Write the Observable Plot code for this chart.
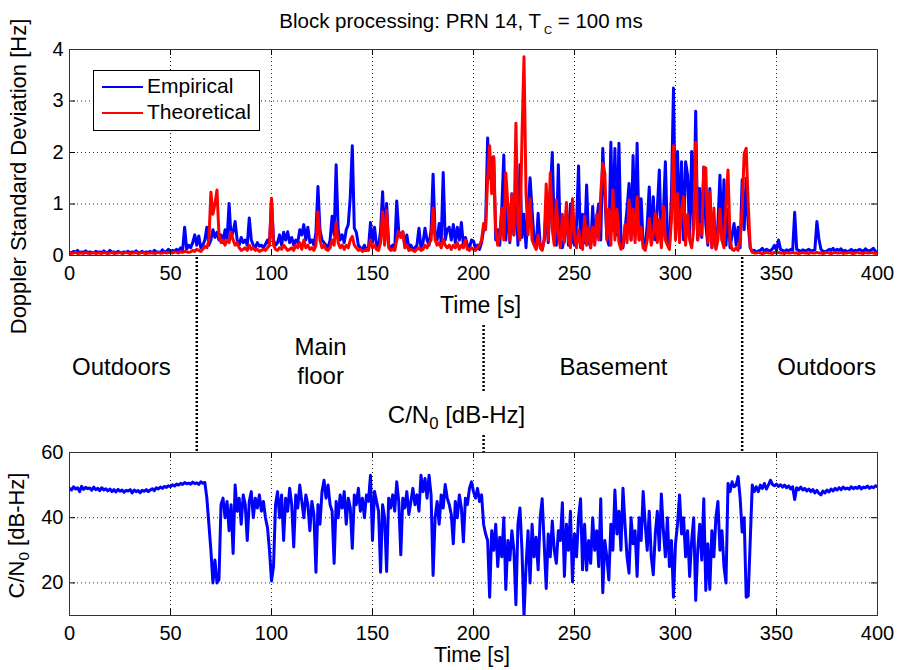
<!DOCTYPE html>
<html><head><meta charset="utf-8">
<script src="https://cdn.jsdelivr.net/npm/d3@7"></script>
<script src="https://cdn.jsdelivr.net/npm/@observablehq/plot@0.6"></script>
<style>
body{margin:0;background:#fff;}
#fig{position:relative;width:899px;height:670px;font-family:"Liberation Sans",Arial,sans-serif;overflow:hidden;background:#fff;color:#000;}
#fig svg{position:absolute;left:0;}
#title{position:absolute;left:0;width:922px;top:11px;text-align:center;font-size:20.5px;line-height:20px;white-space:nowrap;}
#title sub{font-size:55%;vertical-align:-0.5em;margin-left:3px;}
#legend{position:absolute;left:93px;top:70px;width:167px;height:61px;box-sizing:border-box;border:1px solid #000;background:#fff;}
#legend .sw{position:absolute;left:8px;width:41px;height:2.5px;}
#legend .lb{position:absolute;left:53px;font-size:21px;line-height:21px;}
</style></head><body>
<div id="fig">
  <div id="title">Block processing: PRN 14, T<sub>C</sub> = 100 ms</div>
</div>
<script>
// ---------------- data ----------------
const seconds = d3.range(0, 401); // one sample per second, 0..400 s

const empirical = [
0.06,0.05,0.08,0.06,0.1,0.05,0.07,0.06,0.09,0.05,
0.07,0.06,0.05,0.08,0.06,0.07,0.05,0.09,0.06,0.05,
0.1,0.06,0.07,0.05,0.08,0.06,0.05,0.07,0.06,0.08,
0.05,0.07,0.06,0.09,0.05,0.06,0.08,0.05,0.07,0.06,
0.08,0.05,0.1,0.06,0.07,0.05,0.11,0.06,0.08,0.12,
0.07,0.1,0.08,0.12,0.09,0.15,0.1,0.55,0.12,0.2,
0.15,0.25,0.4,0.2,0.38,0.15,0.2,0.3,0.55,0.2,
0.3,0.5,0.35,0.45,0.3,0.4,0.25,0.5,0.3,1.01,
0.35,0.46,0.66,0.3,0.2,0.35,0.25,0.3,0.2,0.73,
0.3,0.2,0.15,0.25,0.18,0.2,0.15,0.22,0.3,0.2,
1.1,0.3,0.2,0.25,0.4,0.2,0.45,0.3,0.46,0.25,
0.35,0.2,0.3,0.25,0.5,0.4,0.6,0.3,0.55,0.25,
0.3,0.2,0.45,1.34,0.5,0.3,0.25,0.2,0.15,0.3,
0.76,0.4,1.76,0.5,0.3,0.4,0.25,0.5,0.6,1.14,
2.13,0.53,0.45,0.2,0.15,0.12,0.2,0.1,0.15,0.64,
0.25,0.55,0.2,0.15,0.5,1.24,0.3,1.01,0.2,0.15,
0.2,0.12,1.06,0.46,0.4,0.46,0.2,0.4,0.15,0.2,
0.12,0.15,0.2,0.53,0.15,0.25,0.53,0.3,0.2,0.5,
1.58,0.4,0.3,0.62,0.25,1.61,0.3,0.5,0.55,0.3,
0.6,0.25,0.55,0.3,0.64,0.2,0.35,0.2,0.15,0.3,
0.28,0.15,0.2,0.12,0.25,0.5,0.6,2.28,1.5,1.9,
1.9,0.3,0.5,0.2,0.92,1.95,0.3,1.0,0.25,1.2,
0.4,1.3,0.2,1.76,0.35,0.8,0.15,0.9,1.51,0.88,
0.3,0.15,0.82,0.2,0.12,0.3,0.9,0.25,1.2,2.0,
0.5,0.2,1.76,0.3,0.15,0.35,0.9,0.2,1.0,0.3,
0.2,0.6,1.74,0.15,0.8,0.25,1.37,0.3,0.15,0.95,
0.25,0.7,1.0,0.3,2.08,1.2,0.35,0.2,2.2,0.5,
2.08,0.4,2.18,0.3,0.15,0.5,0.9,1.4,0.3,1.94,
0.4,2.18,0.3,1.1,0.2,0.15,0.6,1.33,0.25,1.14,
0.3,0.9,1.66,0.2,0.8,1.82,0.35,0.15,1.2,3.25,
0.4,2.02,0.5,1.82,0.3,1.82,1.56,0.35,2.02,0.5,
2.8,0.3,1.3,0.35,1.72,0.6,0.2,1.3,0.15,0.6,
0.15,0.6,1.56,0.3,1.47,0.2,0.9,0.15,0.4,0.62,
0.2,0.55,0.15,1.47,0.5,1.5,0.6,0.15,0.08,0.1,
0.06,0.09,0.1,0.14,0.08,0.12,0.1,0.09,0.13,0.2,
0.1,0.3,0.12,0.1,0.08,0.11,0.09,0.12,0.1,0.84,
0.12,0.1,0.08,0.11,0.09,0.1,0.12,0.08,0.1,0.11,
0.66,0.32,0.12,0.08,0.07,0.09,0.12,0.1,0.14,0.08,
0.12,0.1,0.13,0.08,0.1,0.07,0.09,0.12,0.08,0.1,
0.09,0.12,0.1,0.08,0.13,0.1,0.09,0.11,0.14,0.08,
0.06];

const theoretical = [
0.05,0.04,0.05,0.06,0.04,0.05,0.05,0.04,0.06,0.05,
0.04,0.05,0.06,0.04,0.05,0.05,0.04,0.06,0.05,0.04,
0.05,0.06,0.04,0.05,0.05,0.06,0.04,0.05,0.06,0.05,
0.04,0.05,0.05,0.06,0.04,0.05,0.06,0.05,0.04,0.05,
0.05,0.06,0.04,0.05,0.06,0.05,0.05,0.06,0.05,0.06,
0.06,0.05,0.07,0.06,0.05,0.07,0.06,0.08,0.07,0.06,
0.07,0.1,0.08,0.12,0.1,0.08,0.12,0.18,0.15,0.3,
1.23,0.8,1.0,1.27,0.4,0.25,0.3,0.2,0.3,0.25,
0.45,0.3,0.2,0.25,0.15,0.1,0.12,0.15,0.1,0.2,
0.12,0.15,0.1,0.12,0.08,0.1,0.12,0.1,0.15,0.2,
1.11,0.2,0.12,0.1,0.15,0.12,0.2,0.15,0.1,0.12,
0.15,0.1,0.2,0.15,0.25,0.12,0.3,0.15,0.2,0.12,
0.15,0.1,0.2,0.85,0.3,0.15,0.2,0.12,0.1,0.15,
0.3,0.2,0.64,0.25,0.15,0.2,0.12,0.2,0.15,0.3,
0.37,0.2,0.15,0.1,0.12,0.08,0.1,0.12,0.1,0.3,
0.15,0.2,0.12,0.1,0.25,0.85,0.2,0.88,0.15,0.1,
0.12,0.1,0.3,0.46,0.35,0.46,0.15,0.2,0.1,0.12,
0.1,0.08,0.12,0.15,0.1,0.12,0.2,0.15,0.23,0.3,
0.92,0.3,0.2,0.25,0.15,0.31,0.2,0.15,0.2,0.12,
0.2,0.15,0.25,0.12,0.2,0.15,0.3,0.12,0.1,0.15,
0.12,0.1,0.15,0.2,0.3,0.62,0.5,1.5,2.13,1.2,
1.92,0.5,0.2,0.4,0.92,0.3,1.6,1.0,0.3,1.19,
0.4,2.57,0.6,0.3,2.3,3.86,1.2,0.4,1.1,0.3,
0.2,0.12,0.4,0.15,0.1,0.3,1.39,0.3,1.6,0.5,
0.2,1.08,0.4,0.15,0.8,0.25,1.03,0.3,0.15,1.1,
0.4,0.15,0.5,0.2,0.12,0.76,0.2,0.55,0.15,0.55,
0.2,0.8,0.3,1.2,1.79,1.6,0.3,0.9,0.2,1.27,
0.3,0.9,0.25,0.12,0.2,0.6,0.25,1.08,0.3,0.9,
0.25,1.14,0.3,0.55,0.15,0.1,0.3,0.72,0.2,0.4,
0.82,0.25,0.7,0.15,0.95,0.3,0.2,0.12,0.7,2.13,
0.3,1.2,0.25,0.9,1.14,0.2,0.8,0.3,0.15,0.5,
2.2,0.3,0.6,0.4,1.71,1.7,0.25,1.24,0.15,0.92,
0.12,0.3,0.9,0.3,0.15,1.0,1.66,0.3,0.12,0.1,
0.15,0.1,0.3,0.9,1.98,2.08,1.0,0.15,0.06,0.05,
0.05,0.06,0.05,0.04,0.05,0.06,0.05,0.05,0.04,0.06,
0.05,0.06,0.05,0.05,0.04,0.06,0.05,0.05,0.06,0.05,
0.05,0.04,0.05,0.06,0.05,0.05,0.04,0.06,0.05,0.05,
0.06,0.05,0.05,0.04,0.05,0.06,0.05,0.04,0.05,0.06,
0.05,0.05,0.06,0.04,0.05,0.05,0.06,0.05,0.04,0.05,
0.06,0.05,0.05,0.04,0.06,0.05,0.05,0.06,0.05,0.04,
0.05];

const cn0 = [
49,48.5,49.5,48.8,49.2,48,49.6,48.7,49.3,48.9,
49.1,48.4,49.4,48.6,49,48.3,49.2,48.5,48.9,48.2,
48.8,48,48.6,47.9,48.7,48.1,48.5,47.8,48.4,48.2,
48.6,47.6,48.5,48,48.3,47.7,48.4,48.1,48.6,48,
48.5,48.9,48.3,49.2,48.8,49.4,49,49.6,49.3,49.8,
49.5,50.1,49.7,50.3,50,50.5,50.2,50.8,50.4,50.6,
50.3,50.9,50.5,50.7,50.2,51,50.6,50.8,46,38,
30,20,27,20,21,44,46,40,45,36,
44,29,50,42,46,38,47,44,33,45,
48,40,46,43,47,42,45,40,37,30,
20.6,25,44,48,40,47,33,46,42,49,
44,31,47,43,50,45,40,47,44,36,
45,41,23.3,44,38,48,51.5,46,50,44,
42,26,45,40,47,43,48,38,46,43,
30.6,47,44,49,42,46,40,47,45,53,
33,48,45,42,23.3,44,40,23.5,46,43,
47,42,51,45,28.6,46,43,48,41,45,
49,44,47,42,53,48,52,46,53,47,
22.3,40,45,38,47,43,50.2,46,44,41,
32,45,40,47,43,32.6,46,44,49,51,
48,46,49,45,47,38,35,33,15.6,36,
30,38,25,34,28,40,18,33,27,36,
30,13.3,38,43,30,9.7,25,36,20,38,
28,34,24,40,45.8,32,18.3,35,28,39,
30,26,36,33,44.6,22,38,30,42,20.3,
35,28,40,45.8,24,38,23.9,33,26,40,
30,36,25,45.8,17,33,28,20.9,38,30,
48.5,35,42,30,49,38,28,23,40,32,
36,22,40,33,48,38,30,42,28,22.5,
35,42,30,47.3,36,28,40,25,33,15.6,
32,38,47,35,40,28,36,22,33,40,
14.6,30,38,27,45.8,17.7,32,18,36,28,
40,45,30,36,25,20,50.5,48,51,49.5,
50,52.6,46,35.6,40,15.6,16,33,50,48,
49.5,48,50,49,50.5,48.8,50,51.5,50.2,49.8,
50.3,49.6,50.1,49.4,50,49.2,49.8,48.8,49.5,45.6,
49.2,48.6,49.4,48.5,49,48.2,48.8,48,48.6,47.6,
48.4,47.5,47,48.2,47.6,48.5,47.9,48.8,48.2,49,
48.5,49.2,48.6,49.4,48.8,49.1,48.7,49.5,48.9,49.3,
49,49.6,48.8,49.4,49.2,49.7,49,49.5,49.2,49.8,
49.5];

const timeTicks = [0, 50, 100, 150, 200, 250, 300, 350, 400];
const dopplerTicks = [0, 1, 2, 3, 4];
const cn0Ticks = [20, 40, 60];
const transitions = [63, 205, 333];           // s: Outdoors|Main floor|Basement|Outdoors
const regionNames = ["Outdoors", "Main\nfloor", "Basement", "Outdoors"];
const seriesNames = ["Empirical", "Theoretical"];
const seriesColors = ["#0000ff", "#ff0000"];

// ---------------- layout ----------------
const W = 899, ML = 69, MR = 22;
const FONT = '"Liberation Sans", Arial, Helvetica, sans-serif';
const baseStyle = {background: "transparent", overflow: "visible", fontFamily: FONT, color: "#000"};
const grid = {stroke: "#000", strokeWidth: 1, strokeDasharray: "1,3", strokeOpacity: 0.85};
const innerW = W - ML - MR;
const LW = 3;
const fmt = d => String(d);

const dop = seconds.map((t, i) => ({t, emp: empirical[i], theo: theoretical[i]}));
const cnData = seconds.map((t, i) => ({t, v: cn0[i]}));

function subscriptize(svg, placeholder, before, sub, after, shift) {
  d3.select(svg).selectAll("text").each(function () {
    if (this.textContent === placeholder) {
      const el = d3.select(this);
      el.text(null);
      el.append("tspan").text(before);
      el.append("tspan").attr("font-size", "70%").attr("dy", shift).text(sub);
      el.append("tspan").attr("dy", -shift).text(after);
    }
  });
}

// ---- top panel
const topInnerH = 255 - 49;
const topPlot = Plot.plot({
  width: W, height: 300, marginLeft: ML, marginRight: MR, marginTop: 49, marginBottom: 45,
  style: baseStyle,
  x: {domain: [0, 400]},
  y: {domain: [0, 4]},
  marks: [
    Plot.ruleX(timeTicks.slice(1, -1), {x: d => d, ...grid}),
    Plot.ruleY(dopplerTicks.slice(1, -1), {y: d => d, ...grid}),
    Plot.line(dop, {x: "t", y: "emp", stroke: seriesColors[0], strokeWidth: LW, clip: true}),
    Plot.line(dop, {x: "t", y: "theo", stroke: seriesColors[1], strokeWidth: LW, clip: true}),
    Plot.tickX(timeTicks, {x: d => d, insetTop: topInnerH - 6, stroke: "#000"}),
    Plot.tickX(timeTicks, {x: d => d, insetBottom: topInnerH - 6, stroke: "#000"}),
    Plot.tickY(dopplerTicks, {y: d => d, insetLeft: innerW - 6, stroke: "#000"}),
    Plot.tickY(dopplerTicks, {y: d => d, insetRight: innerW - 6, stroke: "#000"}),
    Plot.frame({stroke: "#333", strokeWidth: 1}),
    Plot.axisX(timeTicks, {tickSize: 0, tickPadding: 10, fontSize: 20, label: null, tickFormat: fmt}),
    Plot.axisY(dopplerTicks, {tickSize: 0, tickPadding: 6, fontSize: 20, label: null, tickFormat: fmt}),
    Plot.text(["Doppler Standard Deviation [Hz]"], {frameAnchor: "left", textAnchor: "middle", lineAnchor: "middle", dx: -51, dy: 24, rotate: -90, fontSize: 22})
  ]
});
topPlot.style.top = "0px";

// ---- middle annotation band (region labels + transition markers)
const midH = 452 - 255;
const dotted = {stroke: "#000", strokeWidth: 2.5, strokeDasharray: "2,2"};
const midPlot = Plot.plot({
  width: W, height: midH, marginLeft: ML, marginRight: MR, marginTop: 0, marginBottom: 0,
  style: baseStyle,
  x: {domain: [0, 400], axis: null},
  y: {domain: [0, midH], range: [0, midH], axis: null},
  marks: [
    Plot.ruleX([transitions[0], transitions[2]], {x: d => d, y1: 2, y2: midH, ...dotted}),
    Plot.ruleX([transitions[1]], {x: d => d, y1: 70, y2: 138, ...dotted}),
    Plot.ruleX([transitions[1]], {x: d => d, y1: 180, y2: midH, ...dotted}),
    Plot.text(["Time [s]"], {x: 203.5, y: 50, fontSize: 23}),
    Plot.text(regionNames, {x: [25.7, 124.3, 269.3, 374.8], y: [110, 105, 110, 110], fontSize: 24, lineHeight: 1.18}),
    Plot.text(["C/N0 [dB-Hz]"], {x: 191.6, y: 160, fontSize: 24})
  ]
});
midPlot.style.top = "255px";
subscriptize(midPlot, "C/N0 [dB-Hz]", "C/N", "0", " [dB-Hz]", 6);

// ---- bottom panel
const botInnerH = 615 - 452;
const botPlot = Plot.plot({
  width: W, height: 240, marginLeft: ML, marginRight: MR, marginTop: 22, marginBottom: 55,
  style: baseStyle,
  x: {domain: [0, 400]},
  y: {domain: [10, 60]},
  marks: [
    Plot.ruleX(timeTicks.slice(1, -1), {x: d => d, ...grid}),
    Plot.ruleY(cn0Ticks.slice(0, -1), {y: d => d, ...grid}),
    Plot.line(cnData, {x: "t", y: "v", stroke: seriesColors[0], strokeWidth: LW, clip: true}),
    Plot.tickX(timeTicks, {x: d => d, insetTop: botInnerH - 6, stroke: "#000"}),
    Plot.tickX(timeTicks, {x: d => d, insetBottom: botInnerH - 6, stroke: "#000"}),
    Plot.tickY(cn0Ticks, {y: d => d, insetLeft: innerW - 6, stroke: "#000"}),
    Plot.tickY(cn0Ticks, {y: d => d, insetRight: innerW - 6, stroke: "#000"}),
    Plot.frame({stroke: "#333", strokeWidth: 1}),
    Plot.axisX(timeTicks, {tickSize: 0, tickPadding: 10, fontSize: 20, label: null, tickFormat: fmt}),
    Plot.axisY(cn0Ticks, {tickSize: 0, tickPadding: 6, fontSize: 20, label: null, tickFormat: fmt}),
    Plot.text(["Time [s]"], {frameAnchor: "bottom", lineAnchor: "middle", dx: -1.5, dy: 40, fontSize: 21.6}),
    Plot.text(["C/N0 [dB-Hz]"], {frameAnchor: "left", textAnchor: "middle", lineAnchor: "middle", dx: -53, dy: 1.5, rotate: -90, fontSize: 22})
  ]
});
botPlot.style.top = "430px";
subscriptize(botPlot, "C/N0 [dB-Hz]", "C/N", "0", " [dB-Hz]", 5.5);

const fig = document.getElementById("fig");
fig.appendChild(topPlot);
fig.appendChild(midPlot);
fig.appendChild(botPlot);

// ---- legend
const legend = document.createElement("div");
legend.id = "legend";
seriesNames.forEach((name, i) => {
  const sw = document.createElement("div");
  sw.className = "sw";
  sw.style.background = seriesColors[i];
  sw.style.top = (i === 0 ? 14.5 : 40.5) + "px";
  const lb = document.createElement("div");
  lb.className = "lb";
  lb.textContent = name;
  lb.style.top = (i === 0 ? 4 : 30) + "px";
  legend.appendChild(sw);
  legend.appendChild(lb);
});
fig.appendChild(legend);
</script>
</body></html>
